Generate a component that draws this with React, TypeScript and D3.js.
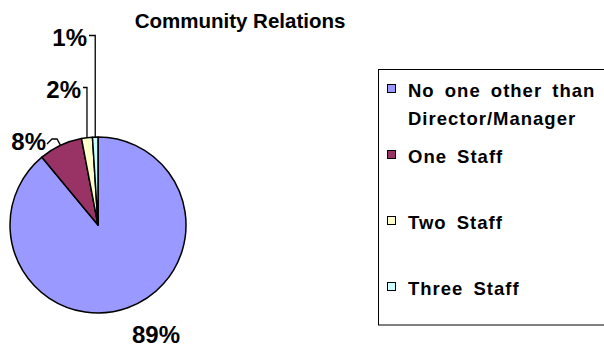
import React from "react";
import * as d3 from "d3";

const categories = ["No one other than Director/Manager", "One Staff", "Two Staff", "Three Staff"];
const legendLines = [["No one other than", "Director/Manager"], ["One Staff"], ["Two Staff"], ["Three Staff"]];
const values = [89, 8, 2, 1];
const colors = ["#9999FF", "#993366", "#FFFFCC", "#CCFFFF"];
const title = "Community Relations";

const W = 604, H = 349;
const cx = 98, cy = 225, R = 88;
const FONT = "'Liberation Sans', Arial, sans-serif";

export default function App() {
  const total = d3.sum(values);
  const pie = d3.pie<number>().sort(null).startAngle(0).endAngle(2 * Math.PI);
  const arcs = pie(values);
  const arc = d3.arc<d3.PieArcDatum<number>>().innerRadius(0).outerRadius(R);

  // label layout (anchor points relative to pie center)
  const labelPos = [
    { x: cx + 58, y: cy + 118, anchor: "middle" },
    { x: cx - 52, y: cy - 75, anchor: "end" },
    { x: cx - 17, y: cy - 127, anchor: "end" },
    { x: cx - 11, y: cy - 179, anchor: "end" },
  ];

  const edge = (a: d3.PieArcDatum<number>) => {
    const m = (a.startAngle + a.endAngle) / 2;
    return [cx + R * Math.sin(m), cy - R * Math.cos(m)];
  };

  const legY = [97, 163, 229, 295];

  return (
    <svg width={W} height={H} style={{ position: "absolute", left: 0, top: 0, background: "#fff" }} fontFamily={FONT}>
      <text x={240} y={28} textAnchor="middle" fontSize={20.5} fontWeight="bold">{title}</text>
      <g>
        {arcs.map((a, i) => (
          <path key={i} d={arc(a) || ""} transform={`translate(${cx},${cy})`} fill={colors[i]} stroke="#000" strokeWidth={1.5} strokeLinejoin="round" />
        ))}
      </g>
      {arcs.map((a, i) => {
        const lp = labelPos[i];
        const [ex, ey] = edge(a);
        const pct = Math.round((values[i] / total) * 100) + "%";
        let leader = null;
        if (i === 2 || i === 3) {
          const ly = lp.y - 10.5;
          leader = <polyline points={`${lp.x + 2},${ly} ${ex},${ly} ${ex},${ey}`} fill="none" stroke="#000" strokeWidth={1.3} />;
        } else if (i === 1) {
          leader = <polyline points={`${lp.x + 1},${lp.y - 6} ${lp.x + 6},${lp.y - 11} ${lp.x + 11},${lp.y - 11} ${ex},${ey}`} fill="none" stroke="#000" strokeWidth={1.3} />;
        }
        return (
          <g key={i}>
            {leader}
            <text x={lp.x} y={lp.y} textAnchor={lp.anchor as any} fontSize={24} fontWeight="bold">{pct}</text>
          </g>
        );
      })}
      <rect x={378.5} y={69.5} width={240} height={255.5} fill="#fff" stroke="#000" strokeWidth={1} />
      {categories.map((c, i) => (
        <g key={c}>
          <rect x={387.5} y={legY[i] - 12.5} width={8} height={8} fill={colors[i]} stroke="#000" strokeWidth={1} />
          {legendLines[i].map((t, j) => (
            <text key={j} x={408} y={legY[i] + j * 28} fontSize={18.5} fontWeight="bold" letterSpacing={1} style={{ wordSpacing: "4px" }}>{t}</text>
          ))}
        </g>
      ))}
    </svg>
  );
}
